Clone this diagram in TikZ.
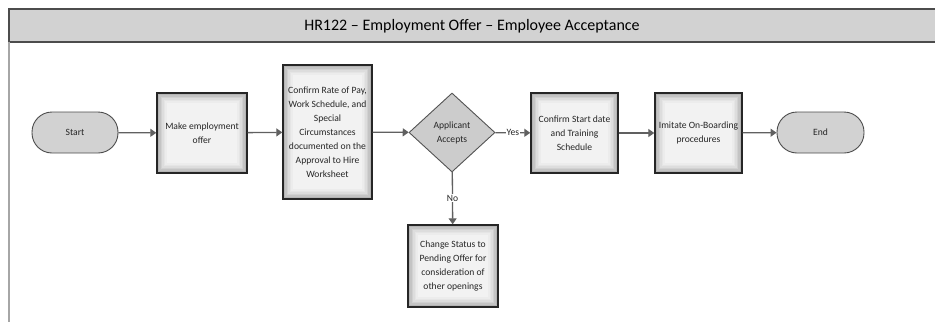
\documentclass[tikz,border=0pt]{standalone}
\usepackage{fontspec}
\setmainfont{Carlito}
\usetikzlibrary{shapes.geometric,arrows.meta}

\begin{document}
\begin{tikzpicture}[x=1pt,y=-1pt,
    txt/.style={font=\fontsize{9.6}{14}\selectfont, align=center, text=black!85},
    procbox/.style={txt, rectangle, draw=black!85, line width=1.4pt, fill=gray!10, inner sep=1pt,
      path picture={
        \foreach \k/\c in {1/58,2/46,3/36,4/27,5/20,6/15}
          \draw[gray!\c, line width=1.7pt]
            ([shift={(\k*1.5pt,-\k*1.5pt)}]path picture bounding box.north west) rectangle
            ([shift={(-\k*1.5pt,\k*1.5pt)}]path picture bounding box.south east);
      }},
    termbox/.style={txt, rectangle, rounded corners=20pt, draw=gray!60!black, line width=0.9pt, fill=gray!35},
    decbox/.style={txt, diamond, draw=gray!65!black, line width=0.9pt, fill=gray!40, inner sep=0pt, aspect=1.09},
    flow/.style={draw=gray!75!black, line width=1.3pt, -{Triangle[length=6pt,width=8pt]}},
    lbl/.style={txt, fill=white, inner sep=1pt}
  ]
  \useasboundingbox (0,0) rectangle (935,322);

  % swimlane header and frame
  \fill[gray!35] (9,9) rectangle (940,42);
  \draw[gray!60!black, line width=1.5pt] (940,9) -- (9,9) -- (9,42) -- (940,42);
  \draw[gray!70, line width=1.2pt] (9,42) -- (9,322);
  \node[font=\fontsize{16}{19}\selectfont] (title) at (472,26) {HR122 – Employment Offer – Employee Acceptance};

  % steps
  \node[termbox, minimum width=86pt, minimum height=41pt] (start) at (75,132.5) {Start};
  \node[procbox, minimum width=90pt, minimum height=80pt] (offer) at (202,133) {Make employment\\offer};
  \node[procbox, minimum width=89pt, minimum height=134pt] (rate) at (327.5,132) {Confirm Rate of Pay,\\Work Schedule, and\\Special\\Circumstances\\documented on the\\Approval to Hire\\Worksheet};
  \node[decbox, minimum width=86pt, minimum height=79pt] (accepts) at (452,132.5) {Applicant\\Accepts};
  \node[procbox, minimum width=87pt, minimum height=80pt] (startdate) at (574.5,133) {Confirm Start date\\and Training\\Schedule};
  \node[procbox, minimum width=87pt, minimum height=80pt] (onboard) at (698.5,133) {Imitate On-Boarding\\procedures};
  \node[termbox, minimum width=87pt, minimum height=41pt] (end) at (820.5,132.5) {End};
  \node[procbox, minimum width=90pt, minimum height=82pt] (pending) at (453,266) {Change Status to\\Pending Offer for\\consideration of\\other openings};

  % connectors
  \draw[flow] (start) -- (offer);
  \draw[flow] (offer) -- (rate);
  \draw[flow] (rate) -- (accepts);
  \draw[flow] (accepts) -- node[lbl] {Yes} (startdate);
  \draw[flow] (startdate) -- (onboard);
  \draw[flow] (onboard) -- (end);
  \draw[flow] (accepts) -- node[lbl] {No} (pending);
\end{tikzpicture}
\end{document}
